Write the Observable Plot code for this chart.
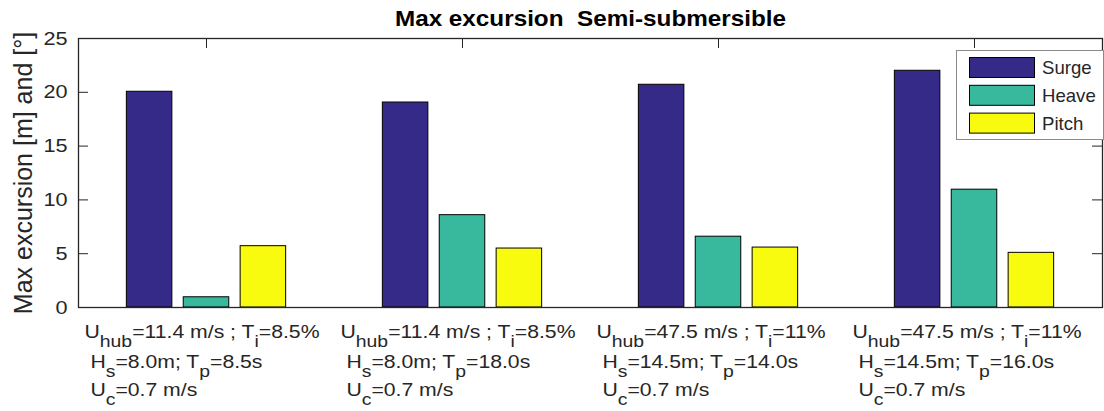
<!DOCTYPE html>
<html><head><meta charset="utf-8">
<script src="https://cdn.jsdelivr.net/npm/d3@7"></script>
<script src="https://cdn.jsdelivr.net/npm/@observablehq/plot@0.6"></script>
<style>
body{margin:0;background:#fff}
svg text{white-space:pre}
</style>
</head><body><div id="chart"></div>
<script>
// ---- data ----
const groups = [1, 2, 3, 4];
const series = ["Surge", "Heave", "Pitch"];
const surge = [20.05, 19.05, 20.7, 22.0];
const heave = [0.95, 8.58, 6.58, 10.95];
const pitch = [5.7, 5.48, 5.57, 5.08];
const labelLine1 = ["U_{hub}=11.4 m/s ; T_{i}=8.5%", "U_{hub}=11.4 m/s ; T_{i}=8.5%", "U_{hub}=47.5 m/s ; T_{i}=11%", "U_{hub}=47.5 m/s ; T_{i}=11%"];
const labelLine2 = [" H_{s}=8.0m; T_{p}=8.5s", " H_{s}=8.0m; T_{p}=18.0s", " H_{s}=14.5m; T_{p}=14.0s", " H_{s}=14.5m; T_{p}=16.0s"];
const labelLine3 = [" U_{c}=0.7 m/s", " U_{c}=0.7 m/s", " U_{c}=0.7 m/s", " U_{c}=0.7 m/s"];
const yTicks = [0, 5, 10, 15, 20, 25];
const colors = ["#352a87", "#38b99e", "#f9fb0e"];
const title = "Max excursion  Semi-submersible";
const yLabel = "Max excursion [m] and [°]";

// ---- layout ----
const W = 1104, H = 411, mL = 78, mR = 2, mT = 38, mB = 104;
const fw = W - mL - mR, fh = H - mT - mB;
const ink = "#262626";
const FS = 18.6, SUB = 17, SHIFT = 9, STRETCH = 1.14;
const font = "'Liberation Sans', Arial, sans-serif";

const values = {Surge: surge, Heave: heave, Pitch: pitch};
const rows = groups.flatMap((g, i) => series.map(s => ({g, s, v: values[s][i]})));
const nS = series.length;
const groupWidth = Math.min(0.8, nS / (nS + 1.5));
const step = groupWidth / nS;
const bw = 0.8 * step;
const off = s => (series.indexOf(s) - (nS - 1) / 2) * step;

const chart = Plot.plot({
  width: W, height: H,
  marginLeft: mL, marginRight: mR, marginTop: mT, marginBottom: mB,
  x: {domain: [0.5, 4.5], axis: null},
  y: {domain: [0, 25]},
  color: {domain: series, range: colors},
  style: {fontFamily: font, fontSize: FS + "px", color: ink, background: "white"},
  marks: [
    Plot.tickY(yTicks, {y: d => d, insetRight: fw - 10, stroke: ink}),
    Plot.tickY(yTicks, {y: d => d, insetLeft: fw - 10, stroke: ink}),
    Plot.tickX(groups, {x: d => d, insetBottom: fh - 10, stroke: ink}),
    Plot.tickX(groups, {x: d => d, insetTop: fh - 10, stroke: ink}),
    Plot.rectY(rows, {
      x1: d => d.g + off(d.s) - bw / 2,
      x2: d => d.g + off(d.s) + bw / 2,
      y1: 0, y2: "v", fill: "s", stroke: "black", strokeWidth: 1
    }),
    Plot.frame({stroke: ink, strokeWidth: 1.3}),
    Plot.axisY({ticks: yTicks, tickSize: 0, tickPadding: 11, fontSize: 19, label: null, color: ink}),
    Plot.text(groups, {x: d => d, frameAnchor: "bottom", text: (d, i) => labelLine1[i], textAnchor: "start", lineAnchor: "bottom", dx: -122, dy: 30, fontSize: FS, fill: ink}),
    Plot.text(groups, {x: d => d, frameAnchor: "bottom", text: (d, i) => labelLine2[i], textAnchor: "start", lineAnchor: "bottom", dx: -122, dy: 60, fontSize: FS, fill: ink}),
    Plot.text(groups, {x: d => d, frameAnchor: "bottom", text: (d, i) => labelLine3[i], textAnchor: "start", lineAnchor: "bottom", dx: -122, dy: 88, fontSize: FS, fill: ink}),
    Plot.text([title], {frameAnchor: "top", text: d => d, lineAnchor: "bottom", dy: -13, fontSize: 21.3, fontWeight: "bold", fill: "black"}),
    Plot.text([yLabel], {frameAnchor: "left", text: d => d, rotate: -90, dx: -55, textAnchor: "middle", lineAnchor: "middle", fontSize: 25, fill: ink})
  ]
});
document.getElementById("chart").appendChild(chart);

const NS = "http://www.w3.org/2000/svg";
const allText = Array.from(chart.querySelectorAll("text"));
const stretch = el => {
  const tr = el.getAttribute("transform");
  if (tr) el.setAttribute("transform", tr + ` scale(${STRETCH},1)`);
};
// stretch title, tick labels
allText.filter(el => el.textContent === title).forEach(stretch);
allText.filter(el => yTicks.map(String).includes(el.textContent.trim())).forEach(stretch);

// subscripts in category labels
allText.filter(el => el.textContent.includes("_{")).forEach(el => {
  stretch(el);
  const parts = el.textContent.split(/_\{([^}]*)\}/);
  el.textContent = "";
  let shifted = false;
  parts.forEach((p, k) => {
    if (!p) return;
    const t = document.createElementNS(NS, "tspan");
    t.textContent = p;
    if (k % 2 === 1) {
      t.setAttribute("font-size", SUB);
      if (!shifted) { t.setAttribute("dy", SHIFT); shifted = true; }
    } else if (shifted) {
      t.setAttribute("dy", -SHIFT); shifted = false;
    }
    el.appendChild(t);
  });
});

// legend
const color = chart.scale("color");
const svg = d3.select(chart);
const lg = svg.append("g").attr("font-family", font).attr("font-size", FS).attr("text-anchor", "start");
lg.append("rect").attr("x", 956.5).attr("y", 50.5).attr("width", 147).attr("height", 89)
  .attr("fill", "white").attr("stroke", "#8a8a8a");
series.forEach((s, i) => {
  const y = 57 + i * 27.8;
  lg.append("rect").attr("x", 969.5).attr("y", y + 0.5).attr("width", 65).attr("height", 20)
    .attr("fill", color.apply(s)).attr("stroke", "black");
  lg.append("text").attr("x", 1042).attr("y", y + 10.5).attr("dy", "0.35em").attr("fill", ink).text(s);
});
</script>
</body></html>
